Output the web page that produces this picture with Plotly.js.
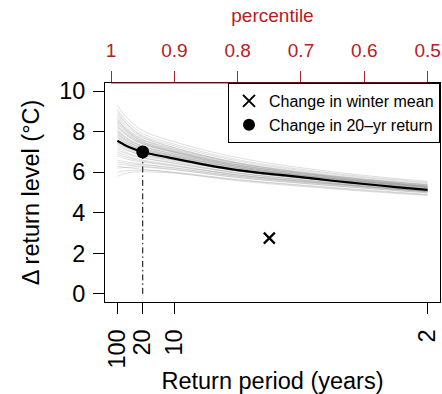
<!DOCTYPE html>
<html>
<head>
<meta charset="utf-8">
<script src="https://cdn.plot.ly/plotly-3.0.1.min.js"></script>
<style>
  html, body { margin: 0; padding: 0; background: #fff; }
  #chart { width: 442px; height: 394px; }
</style>
</head>
<body>
<div id="chart"></div>
<script>
// Percentile grid used for the central estimate (non-exceedance probability)
const centralP = [0.99, 0.98, 0.97, 0.95, 0.90, 0.85, 0.80, 0.75, 0.70, 0.65, 0.60, 0.55, 0.50];
// Central estimate of the change in return level (°C)
const centralChange = [7.55, 7.37, 7.22, 7.00, 6.67, 6.36, 6.10, 5.92, 5.76, 5.58, 5.42, 5.27, 5.13];

// Percentile grid for the bootstrap replicates
const bootP = [0.99, 0.98, 0.97, 0.95, 0.90, 0.80, 0.65, 0.50];
// Bootstrap replicates of the change in return level (°C)
const bootChange = [
  [9.30, 8.86, 8.53, 8.05, 7.50, 6.72, 6.02, 5.55],
  [9.10, 8.68, 8.36, 7.90, 7.38, 6.62, 5.95, 5.50],
  [8.90, 8.52, 8.22, 7.80, 7.30, 6.55, 5.90, 5.45],
  [8.80, 8.42, 8.12, 7.70, 7.20, 6.48, 5.84, 5.40],
  [8.70, 8.32, 8.03, 7.62, 7.15, 6.45, 5.82, 5.38],
  [8.60, 8.25, 7.98, 7.60, 7.12, 6.42, 5.80, 5.37],
  [8.50, 8.17, 7.91, 7.55, 7.08, 6.38, 5.75, 5.32],
  [8.45, 8.12, 7.86, 7.50, 7.05, 6.36, 5.74, 5.30],
  [8.40, 8.06, 7.79, 7.42, 6.98, 6.30, 5.70, 5.28],
  [8.30, 8.00, 7.77, 7.45, 7.02, 6.35, 5.76, 5.33],
  [8.25, 7.95, 7.71, 7.38, 6.95, 6.28, 5.68, 5.25],
  [8.20, 7.92, 7.70, 7.40, 7.00, 6.35, 5.78, 5.36],
  [8.10, 7.82, 7.60, 7.30, 6.90, 6.25, 5.67, 5.24],
  [8.05, 7.77, 7.55, 7.25, 6.86, 6.22, 5.65, 5.22],
  [8.00, 7.75, 7.55, 7.28, 6.90, 6.28, 5.72, 5.30],
  [7.95, 7.69, 7.49, 7.20, 6.82, 6.20, 5.64, 5.20],
  [7.90, 7.64, 7.44, 7.15, 6.78, 6.15, 5.60, 5.17],
  [7.85, 7.62, 7.43, 7.18, 6.82, 6.22, 5.68, 5.27],
  [7.80, 7.56, 7.37, 7.10, 6.75, 6.14, 5.60, 5.18],
  [7.75, 7.51, 7.32, 7.05, 6.70, 6.10, 5.56, 5.14],
  [7.70, 7.49, 7.33, 7.10, 6.78, 6.20, 5.68, 5.28],
  [7.60, 7.38, 7.22, 6.98, 6.65, 6.07, 5.55, 5.12],
  [7.50, 7.31, 7.16, 6.95, 6.64, 6.08, 5.57, 5.15],
  [7.45, 7.26, 7.11, 6.90, 6.60, 6.05, 5.55, 5.14],
  [7.40, 7.20, 7.04, 6.82, 6.52, 5.98, 5.48, 5.06],
  [7.30, 7.14, 7.02, 6.85, 6.58, 6.06, 5.58, 5.18],
  [7.20, 7.03, 6.90, 6.72, 6.45, 5.94, 5.46, 5.06],
  [7.10, 6.96, 6.85, 6.70, 6.45, 5.96, 5.50, 5.12],
  [7.00, 6.86, 6.75, 6.60, 6.36, 5.88, 5.43, 5.04],
  [6.90, 6.78, 6.68, 6.55, 6.32, 5.86, 5.42, 5.05],
  [6.80, 6.70, 6.61, 6.50, 6.30, 5.86, 5.44, 5.08],
  [6.60, 6.53, 6.48, 6.40, 6.22, 5.80, 5.38, 5.02],
  [6.50, 6.45, 6.41, 6.36, 6.20, 5.80, 5.40, 5.05],
  [6.40, 6.37, 6.34, 6.30, 6.14, 5.74, 5.33, 4.98],
  [6.20, 6.23, 6.25, 6.25, 6.12, 5.74, 5.34, 4.99],
  [6.00, 6.06, 6.09, 6.10, 6.00, 5.64, 5.25, 4.91],
  [5.80, 5.92, 5.99, 6.02, 5.95, 5.62, 5.22, 4.88],
  [6.30, 6.25, 6.21, 6.15, 5.98, 5.58, 5.18, 4.85],
  [8.60, 8.22, 7.92, 7.50, 7.00, 6.30, 5.68, 5.24],
  [9.00, 8.56, 8.23, 7.75, 7.22, 6.45, 5.78, 5.30]
];

// 20-year return level change
const return20P = 0.95;
const return20Change = 7.0;

// Change in winter mean, placed at its percentile
const winterMeanP = 0.75;
const winterMeanChange = 2.75;

// Return-period ticks (bottom) and percentile ticks (top)
const periodTickP = [0.99, 0.95, 0.90, 0.50];
const periodTickText = ['100', '20', '10', '2'];
const percentileTicks = [1, 0.9, 0.8, 0.7, 0.6, 0.5];
const percentileTickText = ['1', '0.9', '0.8', '0.7', '0.6', '0.5'];

const yTicks = [0, 2, 4, 6, 8, 10];

const FONT = 'Liberation Sans, Arial, Helvetica, sans-serif';
const RED = '#B22222';

// Axis ranges padded by 4% on each side
const pHi = Math.max(...centralP), pLo = Math.min(...centralP);
const pPad = 0.04 * (pHi - pLo);
const xRange = [pHi + pPad, pLo - pPad];
const yLo = Math.min(...yTicks), yHi = Math.max(...yTicks);
const yPad = 0.04 * (yHi - yLo);
const yRange = [yLo - yPad, yHi + yPad];

const traces = [];

bootChange.forEach(function (vals) {
  traces.push({
    x: bootP, y: vals, type: 'scatter', mode: 'lines',
    line: { color: 'rgba(150,150,150,0.3)', width: 1, shape: 'spline', smoothing: 1 },
    showlegend: false, hoverinfo: 'skip'
  });
});

traces.push({
  x: centralP, y: centralChange, type: 'scatter', mode: 'lines',
  line: { color: '#000', width: 2.2, shape: 'spline', smoothing: 0.8 },
  showlegend: false, hoverinfo: 'skip'
});

// Drop line from the 20-year return level to zero
traces.push({
  x: [return20P, return20P], y: [0, return20Change], type: 'scatter', mode: 'lines',
  line: { color: '#000', width: 1, dash: '6px,3px,1.5px,3px' },
  showlegend: false, hoverinfo: 'skip'
});

traces.push({
  x: [winterMeanP], y: [winterMeanChange], type: 'scatter', mode: 'markers',
  xaxis: 'x2',
  name: 'Change in winter mean',
  marker: { symbol: 'x-thin-open', size: 11, color: '#000', line: { color: '#000', width: 2.2 } },
  hoverinfo: 'skip'
});

traces.push({
  x: [return20P], y: [return20Change], type: 'scatter', mode: 'markers',
  name: 'Change in 20\u2013yr return',
  marker: { symbol: 'circle', size: 13, color: '#000' },
  hoverinfo: 'skip'
});

const layout = {
  width: 442, height: 394,
  margin: { l: 105, r: 2, t: 83, b: 92 },
  paper_bgcolor: '#fff', plot_bgcolor: '#fff',
  font: { family: FONT, size: 23.5, color: '#000' },
  hovermode: false,
  showlegend: true,
  legend: {
    x: 1, y: 1, xanchor: 'right', yanchor: 'top',
    bgcolor: '#fff', bordercolor: '#000', borderwidth: 1,
    font: { family: FONT, size: 16, color: '#000' },
    itemsizing: 'constant', itemwidth: 30,
    tracegroupgap: 0
  },
  xaxis: {
    range: xRange,
    tickmode: 'array', tickvals: periodTickP, ticktext: periodTickText,
    tickangle: -90,
    ticks: 'outside', ticklen: 11, tickwidth: 1, tickcolor: '#000',
    ticklabelstandoff: 6,
    showline: true, linecolor: '#000', linewidth: 1, mirror: true,
    showgrid: false, zeroline: false,
    tickfont: { family: FONT, size: 23.5, color: '#000' },
    title: { text: 'Return period (years)', font: { family: FONT, size: 23.5, color: '#000' }, standoff: 11 }
  },
  xaxis2: {
    overlaying: 'x', side: 'top',
    range: xRange,
    tickmode: 'array', tickvals: percentileTicks, ticktext: percentileTickText,
    ticks: 'outside', ticklen: 11, tickwidth: 1, tickcolor: RED,
    ticklabelstandoff: 6,
    showline: false, showgrid: false, zeroline: false,
    tickfont: { family: FONT, size: 19, color: RED },
    title: { text: 'percentile', font: { family: FONT, size: 19, color: RED }, standoff: 12 }
  },
  yaxis: {
    range: yRange,
    tickmode: 'array', tickvals: yTicks,
    ticks: 'outside', ticklen: 11, tickwidth: 1, tickcolor: '#000',
    ticklabelstandoff: 3,
    showline: true, linecolor: '#000', linewidth: 1, mirror: true,
    showgrid: false, zeroline: false,
    tickfont: { family: FONT, size: 23.5, color: '#000' },
    title: { text: '\u0394 return level (\u00B0C)', font: { family: FONT, size: 23.5, color: '#000' }, standoff: 12 }
  },
  shapes: [{
    // top axis line spans the percentile ticks
    type: 'line', xref: 'x2', yref: 'paper',
    x0: percentileTicks[0], x1: percentileTicks[percentileTicks.length - 1],
    y0: 1, y1: 1,
    line: { color: RED, width: 1 }, layer: 'above'
  }]
};

Plotly.newPlot('chart', traces, layout, { staticPlot: true, displayModeBar: false });
</script>
</body>
</html>
